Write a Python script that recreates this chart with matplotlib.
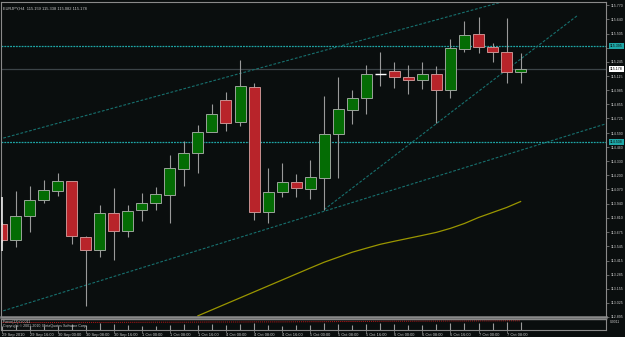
import matplotlib
matplotlib.use("Agg")
import matplotlib.pyplot as plt
from matplotlib.patches import Rectangle
from matplotlib.transforms import blended_transform_factory

# ---------------- data ----------------
title_text = "EURJPY,H4  115.159 115.338 115.082 115.178"
opens  = [113.748, 113.602, 113.830, 113.977, 114.059, 114.151, 113.629, 113.510, 113.849, 113.684,
          113.885, 113.949, 114.023, 114.261, 114.407, 114.599, 114.892, 114.691, 115.011, 113.867,
          114.050, 114.142, 114.078, 114.178, 114.581, 114.800, 114.910, 115.130, 115.166, 115.102,
          115.075, 115.130, 114.983, 115.368, 115.505, 115.386, 115.340, 115.157]
highs  = [113.766, 114.059, 114.105, 114.160, 114.224, 114.151, 113.638, 113.931, 114.087, 113.931,
          114.041, 114.096, 114.389, 114.517, 114.663, 114.855, 114.965, 115.267, 115.047, 114.270,
          114.315, 114.215, 114.343, 114.928, 115.102, 114.983, 115.221, 115.340, 115.249, 115.221,
          115.249, 115.212, 115.459, 115.624, 115.660, 115.423, 115.651, 115.331]
lows   = [113.583, 113.538, 113.675, 113.949, 114.013, 113.565, 112.998, 113.446, 113.419, 113.629,
          113.776, 113.885, 113.757, 114.105, 114.224, 114.599, 114.608, 114.654, 113.785, 113.757,
          114.004, 114.004, 113.986, 113.885, 114.178, 114.672, 114.764, 115.020, 115.002, 114.947,
          114.993, 114.681, 114.910, 115.340, 115.331, 115.249, 115.047, 115.047]
closes = [113.602, 113.830, 113.977, 114.068, 114.151, 113.638, 113.510, 113.849, 113.684, 113.876,
          113.949, 114.032, 114.270, 114.407, 114.599, 114.764, 114.681, 115.020, 113.867, 114.050,
          114.142, 114.087, 114.187, 114.581, 114.810, 114.910, 115.130, 115.130, 115.102, 115.075,
          115.130, 114.983, 115.377, 115.496, 115.386, 115.340, 115.157, 115.176]

ma_first_bar = 14
ma_values = [112.906, 112.961, 113.016, 113.071, 113.126, 113.181, 113.236, 113.291, 113.346, 113.400,
             113.446, 113.492, 113.529, 113.565, 113.593, 113.620, 113.647, 113.675, 113.712, 113.757,
             113.812, 113.858, 113.904, 113.959]

x_labels = ["29 Sep 2010", "29 Sep 16:00", "30 Sep 00:00", "30 Sep 08:00", "30 Sep 16:00",
            "1 Oct 00:00", "1 Oct 08:00", "1 Oct 16:00", "4 Oct 00:00", "4 Oct 08:00",
            "4 Oct 16:00", "5 Oct 00:00", "5 Oct 08:00", "5 Oct 16:00", "6 Oct 00:00",
            "6 Oct 08:00", "6 Oct 16:00", "7 Oct 00:00", "7 Oct 08:00"]
price_ticks = [115.770, 115.640, 115.505, 115.375, 115.245, 115.115, 114.985, 114.855, 114.725,
               114.590, 114.460, 114.330, 114.200, 114.070, 113.940, 113.810, 113.675, 113.545,
               113.415, 113.285, 113.155, 113.025, 112.895]

hline_levels = [115.395, 114.508]
current_price = 115.178
left_marker = (114.004, 113.501)

# trend lines: (bar0, price0, bar1, price1)
channel_upper = (-1.0, 114.504, 44.0, 116.092)
channel_lower = (-1.0, 112.907, 44.0, 114.712)
support_ray   = (23.0, 113.885, 41.02, 115.670)

volume_values = [4, 5, 4, 4, 4, 6, 5, 7, 6, 5, 4, 4, 5, 6, 5, 6, 5, 6, 7, 5,
                 4, 5, 5, 7, 6, 5, 6, 7, 6, 5, 5, 6, 7, 7, 7, 7, 8, 8]
signal_values = [7.5, 7.5, 7.5, 7.5, 7.5, 7.6, 7.6, 7.6, 7.6, 7.7, 7.7, 7.8, 7.8, 7.8, 7.9, 8.0,
                 8.0, 8.0, 8.1, 8.1, 8.1, 8.2, 8.3, 8.3, 8.4, 8.5, 8.6, 8.7, 8.8, 8.8, 8.9, 8.9,
                 9.0, 9.0, 9.1, 9.1, 9.2, 9.2]

# ---------------- style ----------------
W, H = 625, 337
BG = "#0a0e0e"
FRAME = "#8a8a8a"
TXT = "#c8c8c8"
GREEN = "#046c04"
RED = "#b8242a"
WICK = "#9a9a9a"
FONT = ["Liberation Sans", "DejaVu Sans"]
FS_AX = 2.6
FS_X = 2.9

def px_x(p):
    return p / W

def px_y(p):
    return 1 - p / H

fig = plt.figure(figsize=(W / 100, H / 100), dpi=100, facecolor=BG)

left_px, right_px = 1, 606
main_top, main_bot = 2, 317
sub_top, sub_bot = 319, 330

ax = fig.add_axes([px_x(left_px), px_y(main_bot), (right_px - left_px) / W, (main_bot - main_top) / H])
axs = fig.add_axes([px_x(left_px), px_y(sub_bot), (right_px - left_px) / W, (sub_bot - sub_top) / H])

bar_px = 14.03
x0_px = 1.5
xlim = ((left_px - x0_px) / bar_px, (right_px - x0_px) / bar_px)

price_per_px = 0.00915
price_at0 = 115.816
ylim = (price_at0 - main_bot * price_per_px, price_at0 - main_top * price_per_px)

for a in (ax, axs):
    a.set_facecolor(BG)
    a.set_xlim(*xlim)
    for s in a.spines.values():
        s.set_color(FRAME)
        s.set_linewidth(0.8)
    a.tick_params(colors=TXT)

ax.set_ylim(*ylim)
ax.spines["bottom"].set_linewidth(1.8)
axs.spines["top"].set_linewidth(1.0)

# horizontal levels
ax.axhline(current_price, color="#3c4448", lw=0.9, zorder=1)
for lv in hline_levels:
    ax.axhline(lv, color="#1ea6a6", lw=0.9, ls=(0, (1.5, 0.8)), zorder=2)

# trend lines
tl_color = "#17706e"
for (b0, p0, b1, p1) in (channel_upper, channel_lower, support_ray):
    ax.plot([b0, b1], [p0, p1], color=tl_color, lw=0.8, ls=(0, (2.5, 1.5)), zorder=2)

# moving average
ma_x = list(range(ma_first_bar, ma_first_bar + len(ma_values)))
ax.plot(ma_x, ma_values, color="#9a9600", lw=0.9, zorder=2)

# candles
body_w = 11.0 / bar_px
for i, (o, h, l, c) in enumerate(zip(opens, highs, lows, closes)):
    ax.vlines(i, l, h, color=WICK, lw=0.8, zorder=3)
    if abs(c - o) < 1e-6:
        ax.hlines(o, i - body_w / 2, i + body_w / 2, color="white", lw=1.0, zorder=4)
        continue
    fc = GREEN if c > o else RED
    ec = "#9aa49a" if c > o else "#c89090"
    ax.add_patch(Rectangle((i - body_w / 2, min(o, c)), body_w, abs(c - o),
                           facecolor=fc, edgecolor=ec, lw=0.7, zorder=4))

# light marker on the left border
ax.vlines(xlim[0] + 0.04, left_marker[1], left_marker[0], color="#e8e8e8", lw=1.2, zorder=6)

# right price axis
ax.yaxis.tick_right()
ax.set_yticks(price_ticks)
ax.set_yticklabels([f"{t:.3f}" for t in price_ticks], fontsize=FS_AX, color=TXT, family=FONT)
ax.tick_params(axis="y", length=2, width=0.5, pad=1.5, color=FRAME)
ax.set_xticks([])

trans = blended_transform_factory(ax.transAxes, ax.transData)
lab_x = 1 + 4.0 / (right_px - left_px)
for lv in hline_levels:
    ax.text(lab_x, lv, f"{lv:.3f}", transform=trans, fontsize=FS_AX, family=FONT, color="#0a0e0e",
            va="center", ha="left", clip_on=False, zorder=10,
            bbox=dict(boxstyle="square,pad=0.3", fc="#1ea6a6", ec="none"))
ax.text(lab_x, current_price, f"{current_price:.3f}", transform=trans, fontsize=FS_AX, family=FONT,
        color="black", va="center", ha="left", clip_on=False, zorder=10,
        bbox=dict(boxstyle="square,pad=0.3", fc="white", ec="none"))

ax.text(0.003, 0.985, title_text, transform=ax.transAxes, fontsize=FS_X, family=FONT,
        color=TXT, va="top", ha="left")

# sub window
axs.set_ylim(0, 11)
axs.vlines(range(len(volume_values)), 0, volume_values, color="#9a9a9a", lw=0.8)
axs.plot(range(len(signal_values)), signal_values, color="#c01818", lw=0.7, ls=(0, (1, 1)))
axs.set_yticks([])
axs.text(0.003, 0.95, "Force(13) 0.0011", transform=axs.transAxes, fontsize=2.6, family=FONT,
         color=TXT, va="top", ha="left")
axs.text(0.003, 0.5, "Copyright \u00a9 2001-2010, MetaQuotes Software Corp.", transform=axs.transAxes,
         fontsize=2.6, family=FONT, color=TXT, va="top", ha="left")
axs.text(lab_x, 0.7, "0.0011", transform=axs.transAxes, fontsize=2.4, family=FONT, color=TXT,
         va="center", ha="left", clip_on=False)

axs.set_xticks(range(0, 2 * len(x_labels), 2))
axs.set_xticklabels(x_labels, fontsize=FS_X, family=FONT, color=TXT, ha="left")
axs.tick_params(axis="x", length=2, width=0.5, pad=0.5, color=FRAME)

fig.savefig("out.png", dpi=100, facecolor=BG)
